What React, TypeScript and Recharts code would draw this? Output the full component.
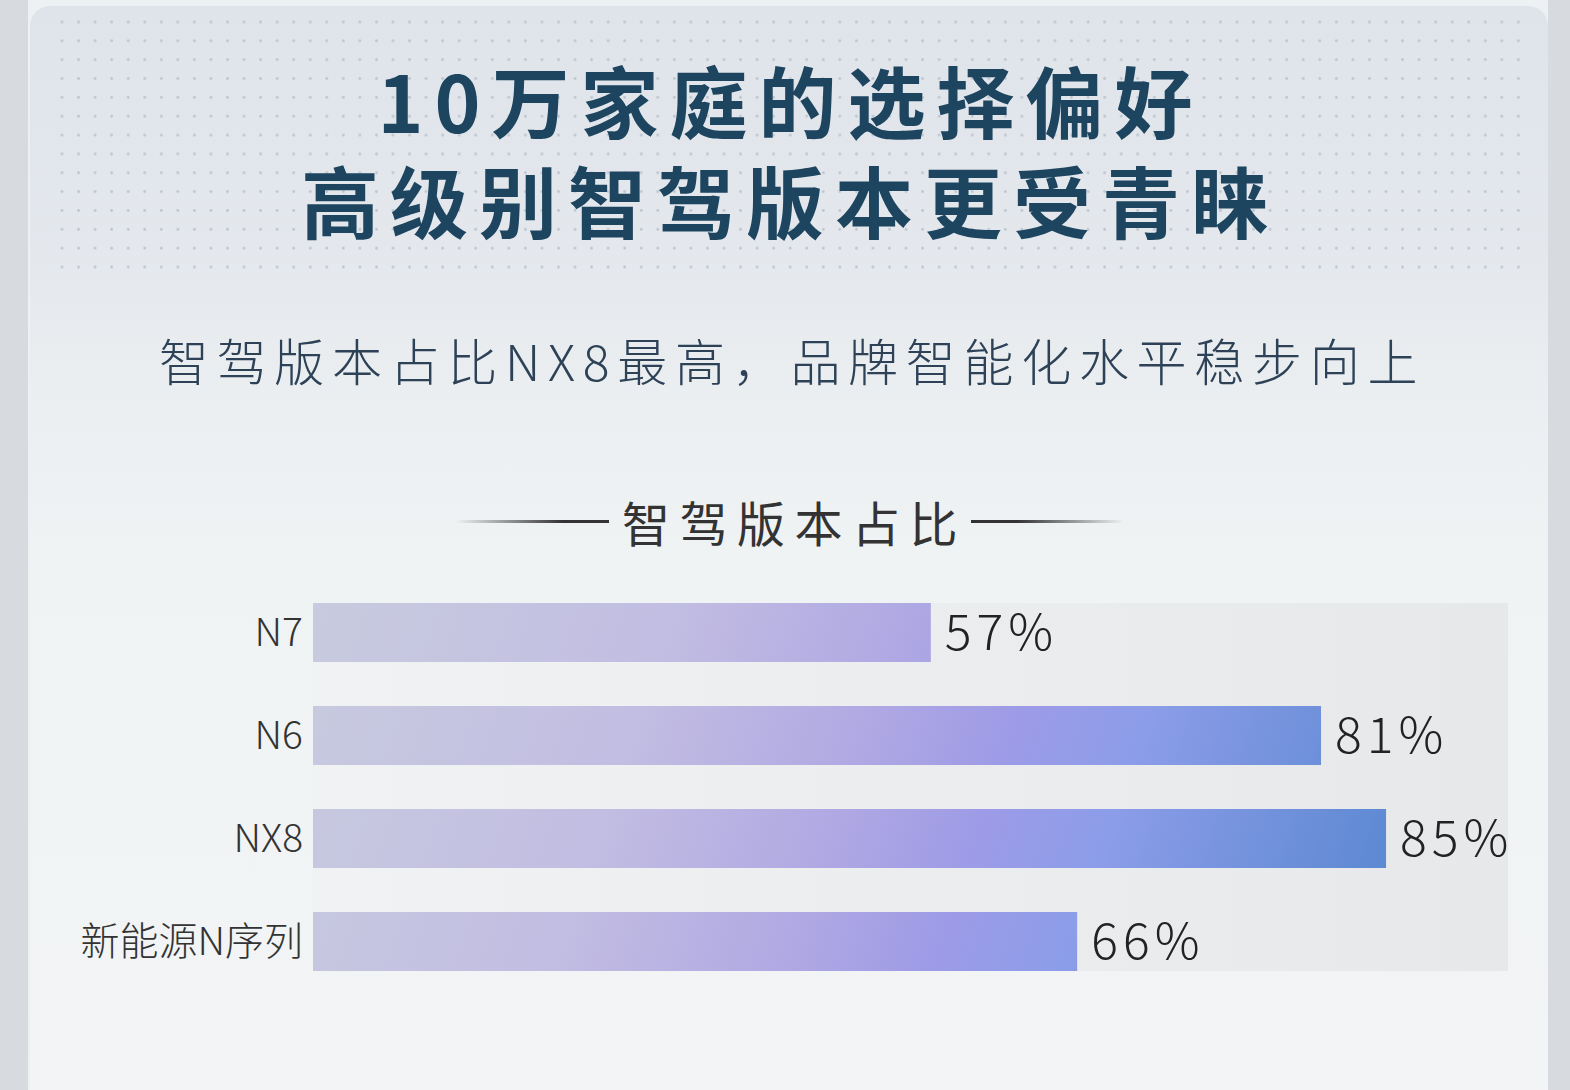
import React from "react"
import { Bar, BarChart, LabelList, ReferenceArea, XAxis, YAxis } from "recharts"

// chart data
const categories = ["N7", "N6", "NX8", "新能源N序列"]
const shares = [57, 81, 85, 66]

const titleLines = ["10万家庭的选择偏好", "高级别智驾版本更受青睐"]
const subtitle = "智驾版本占比NX8最高，品牌智能化水平稳步向上"
const chartTitle = "智驾版本占比"

const data = categories.map((name, i) => ({ name, value: shares[i] }))

const FONT = '"Noto Sans CJK SC", "Noto Sans", sans-serif'
const X_DOMAIN: [number, number] = [19, 92.5]
const BAR_SIZE = 59
const BAND = 103
const INSET = (BAND - BAR_SIZE) / 2

const TrackShape = (props: any) => {
  const { x, y, width, height } = props
  return <rect x={x} y={y + INSET} width={width} height={height - 2 * INSET} fill="url(#trackGrad)" />
}

export default function App() {
  return (
    <div
      style={{
        position: "fixed",
        top: 0,
        left: 0,
        width: 1570,
        height: 1090,
        overflow: "hidden",
        fontFamily: FONT,
        background: "linear-gradient(90deg, #d7dadf 0 28px, #eef1f3 28px 1548px, #d7dadf 1548px 100%)",
      }}
    >
      {/* card */}
      <div
        style={{
          position: "absolute",
          left: 30,
          top: 6,
          width: 1518,
          height: 1110,
          borderRadius: "20px 20px 0 0",
          background:
            "linear-gradient(180deg, #dfe4ea 0px, #e4e8ed 240px, #ebeff1 400px, #f0f3f4 560px, #f2f4f5 100%)",
        }}
      />
      {/* dotted backdrop */}
      <svg style={{ position: "absolute", left: 0, top: 0 }} width={1570} height={300}>
        <defs>
          <pattern id="dots" x={60.5} y={20.5} width={16.55} height={18.85} patternUnits="userSpaceOnUse">
            <circle cx={1.5} cy={1.5} r={1.4} fill="#bcc5d0" />
          </pattern>
        </defs>
        <rect x={60} y={20} width={1462} height={252} fill="url(#dots)" />
      </svg>

      {/* headings */}
      <div
        style={{
          position: "absolute",
          left: 0,
          width: 1570,
          top: 49,
          textAlign: "center",
          fontSize: 78,
          lineHeight: "100px",
          fontWeight: 700,
          letterSpacing: 11,
          paddingLeft: 11,
          boxSizing: "border-box",
          color: "#1d4560",
          whiteSpace: "pre-line",
        }}
      >
        {titleLines.join("\n")}
      </div>
      <div
        style={{
          position: "absolute",
          left: 0,
          width: 1570,
          top: 334,
          textAlign: "center",
          fontSize: 50,
          lineHeight: "50px",
          fontWeight: 300,
          letterSpacing: 7.7,
          paddingLeft: 14,
          boxSizing: "border-box",
          color: "#2e4257",
        }}
      >
        {subtitle}
      </div>
      <div
        style={{
          position: "absolute",
          left: 0,
          width: 1570,
          top: 497,
          display: "flex",
          justifyContent: "center",
          alignItems: "center",
          paddingLeft: 10,
          boxSizing: "border-box",
        }}
      >
        <div style={{ width: 153, height: 3, background: "linear-gradient(90deg, rgba(51,51,51,0), #333 70%)" }} />
        <div
          style={{
            fontSize: 48,
            lineHeight: "48px",
            letterSpacing: 9.5,
            color: "#333",
            margin: "0 4px 0 13px",
          }}
        >
          {chartTitle}
        </div>
        <div style={{ width: 153, height: 3, background: "linear-gradient(90deg, #333 30%, rgba(51,51,51,0))" }} />
      </div>

      {/* bar chart */}
      <div style={{ position: "absolute", left: 0, top: 560 }}>
        <BarChart
          width={1570}
          height={460}
          data={data}
          layout="vertical"
          margin={{ top: 21, right: 62, bottom: 27, left: 13 }}
          barSize={BAR_SIZE}
        >
          <defs>
            <linearGradient id="trackGrad" x1="0" y1="0" x2="1" y2="0">
              <stop offset="0%" stopColor="#f1f2f3" />
              <stop offset="100%" stopColor="#e7e8ea" />
            </linearGradient>
            <linearGradient id="barGrad" gradientUnits="userSpaceOnUse" x1={313} y1={43} x2={1390} y2={411}>
              <stop offset="0%" stopColor="#c8cbdf" />
              <stop offset="30%" stopColor="#c2bde2" />
              <stop offset="50%" stopColor="#b0a8e3" />
              <stop offset="62%" stopColor="#9d9be7" />
              <stop offset="72%" stopColor="#8d9de9" />
              <stop offset="90%" stopColor="#6a8ed8" />
              <stop offset="100%" stopColor="#5588d0" />
            </linearGradient>
          </defs>
          <XAxis type="number" hide domain={X_DOMAIN} allowDataOverflow />
          <YAxis
            type="category"
            dataKey="name"
            width={300}
            axisLine={false}
            tickLine={false}
            tickSize={0}
            tickMargin={10}
            tick={{ fill: "#333", fontSize: 39, fontWeight: 300, fontFamily: FONT }}
          />
          <ReferenceArea
            x1={X_DOMAIN[0]}
            x2={X_DOMAIN[1]}
            y1={categories[0]}
            y2={categories[categories.length - 1]}
            shape={TrackShape}
          />
          <Bar dataKey="value" fill="url(#barGrad)" isAnimationActive={false}>
            <LabelList
              dataKey="value"
              position="right"
              offset={14}
              formatter={(v: any) => `${v}%`}
              fill="#222"
              fontSize={50}
              fontWeight={300}
              fontFamily={FONT}
              letterSpacing={5}
            />
          </Bar>
        </BarChart>
      </div>
    </div>
  )
}
